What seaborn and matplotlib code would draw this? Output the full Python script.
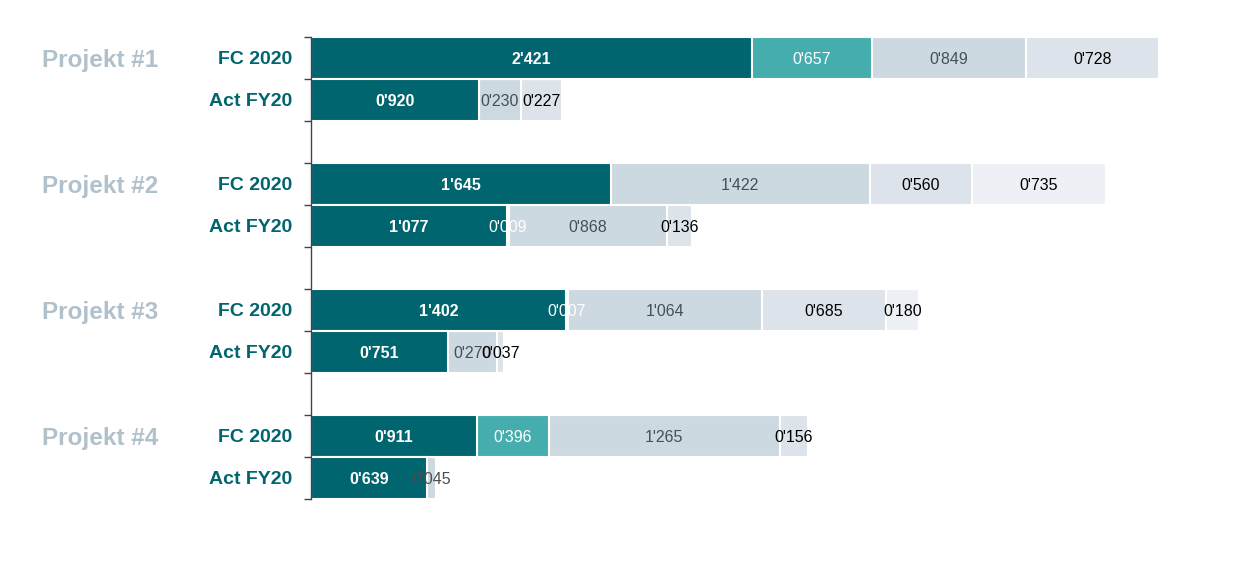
import numpy as np
import pandas as pd
import seaborn as sns
import matplotlib.pyplot as plt

# data (values in thousands), rows: FC / Act for each project
projects = ['Projekt #1', 'Projekt #2', 'Projekt #3', 'Projekt #4']
row_types = ['FC 2020', 'Act FY20']

seg_dark = [2421, 920, 1645, 1077, 1402, 751, 911, 639]
seg_teal = [657, 0, 0, 9, 7, 0, 396, 0]
seg_grey = [849, 230, 1422, 868, 1064, 270, 1265, 45]
seg_light = [728, 227, 560, 136, 685, 37, 156, 0]
seg_pale = [0, 0, 735, 0, 180, 0, 0, 0]

segments = [seg_dark, seg_teal, seg_grey, seg_light, seg_pale]
seg_colors = ['#00656e', '#45adad', '#cdd9e0', '#dde3ea', '#edf0f4']
txt_colors = ['white', 'white', '#474f55', 'black', 'black']
txt_weights = ['bold', 'normal', 'normal', 'normal', 'normal']

# row order with empty gap rows between projects
row_ids = []
order = []
for i, p in enumerate(projects):
    for r in row_types:
        row_ids.append(p + ' ' + r)
        order.append(p + ' ' + r)
    if i < len(projects) - 1:
        order.append('gap %d' % i)


def fmt(v):
    return "%d'%03d" % (v // 1000, v % 1000)


sns.set_style('white')
plt.rcParams['font.family'] = ['Liberation Sans', 'DejaVu Sans']

fig = plt.figure(figsize=(12.43, 5.79), dpi=100)
ax = fig.add_axes([311 / 1243, 1 - 499 / 579, 900 / 1243, 462 / 579])

vals = np.array(segments)
cum = np.cumsum(vals, axis=0)

# stacked bars: draw the cumulative totals from longest to shortest
for k in range(len(segments) - 1, -1, -1):
    df = pd.DataFrame({'row': row_ids, 'cum': cum[k]})
    sns.barplot(data=df, x='cum', y='row', order=order, orient='h',
                color=seg_colors[k], saturation=1, width=1.0,
                edgecolor='white', linewidth=1.5, errorbar=None, ax=ax)

# value labels
for k in range(len(segments)):
    for j, rid in enumerate(row_ids):
        v = vals[k][j]
        if v == 0:
            continue
        xc = cum[k][j] - v / 2
        ax.text(xc, order.index(rid) + 0.03, fmt(v), ha='center', va='center',
                fontsize=11.5, color=txt_colors[k], fontweight=txt_weights[k])

ax.set_xlim(0, 900 / 0.1822)
ax.set_ylim(len(order) - 0.5, -0.5)

# axis styling
ypos = [order.index(r) for r in row_ids]
ax.set_yticks(ypos, [r for p in projects for r in row_types])
ax.set_yticks(np.arange(-0.5, len(order)), minor=True)
ax.tick_params(axis='y', which='major', length=0, pad=13.5,
               labelsize=14, labelcolor='#00656e')
ax.tick_params(axis='y', which='minor', length=5, width=1, color='#444444',
               left=True)
for lbl in ax.get_yticklabels():
    lbl.set_fontweight('bold')
ax.set_xticks([])
ax.set_xlabel('')
ax.set_ylabel('')
for s in ['top', 'right', 'bottom']:
    ax.spines[s].set_visible(False)
ax.spines['left'].set_color('#444444')
ax.spines['left'].set_linewidth(1)

# project names
for i, p in enumerate(projects):
    ax.text(-269 / 900, order.index(p + ' FC 2020') + 0.07, p,
            transform=ax.get_yaxis_transform(), ha='left', va='center',
            fontsize=17.5, fontweight='bold', color='#b1c1cc')

fig.savefig('out.png', dpi=100)
